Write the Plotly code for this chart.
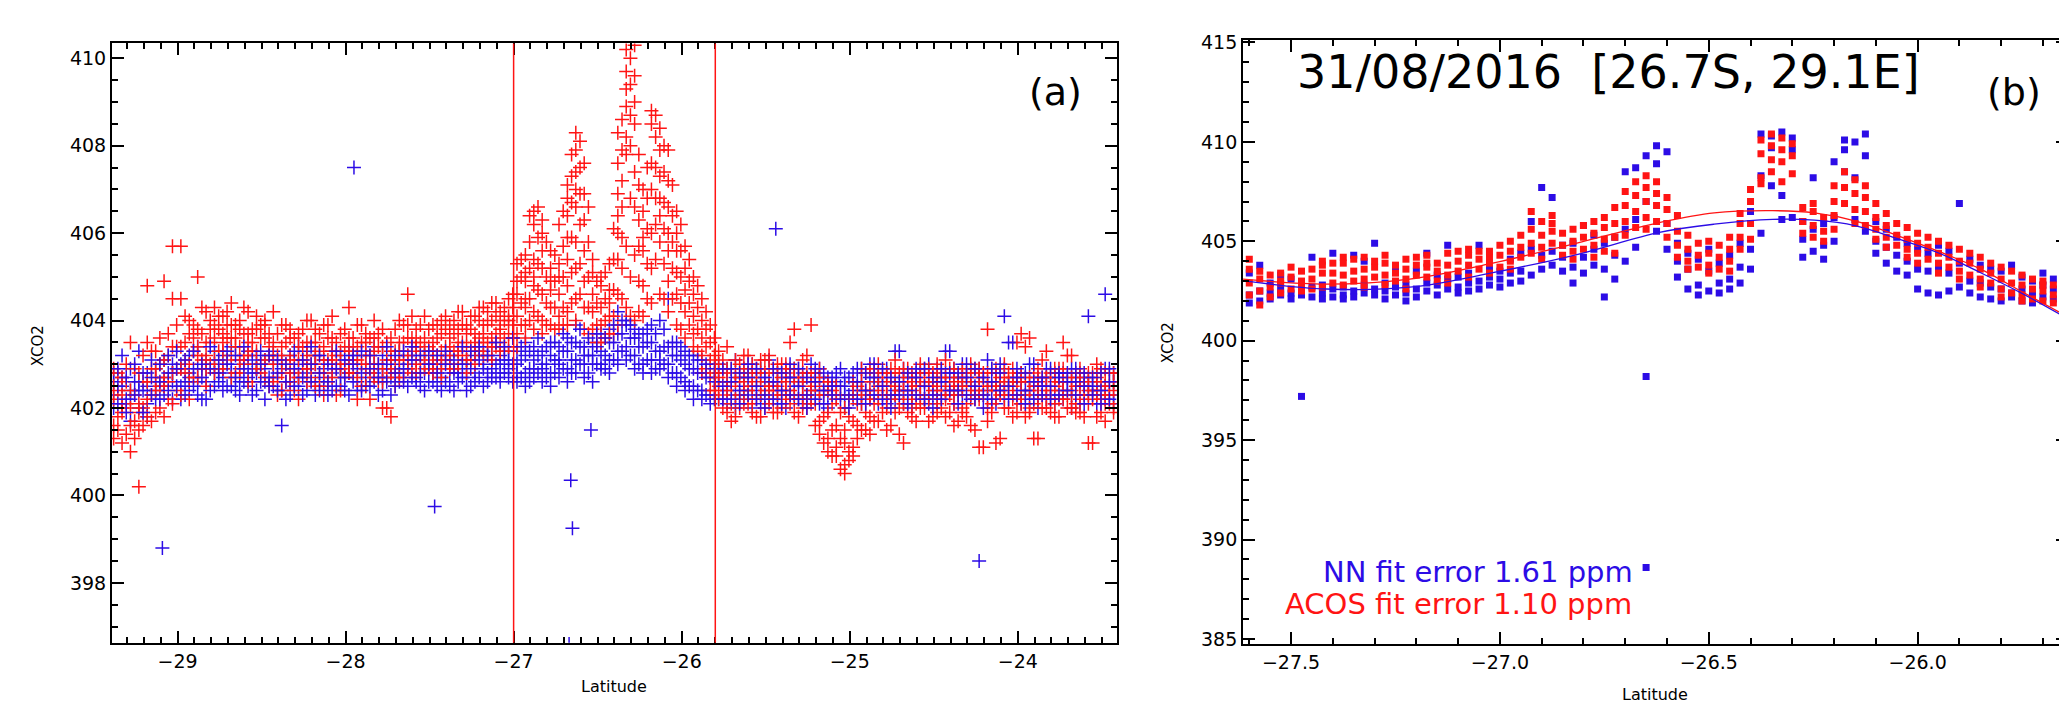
import plotly.graph_objects as go

# ---------------- panel (a): latitude transect, NN (blue) vs ACOS (red) ----------------
a_lat = [
    -29.38, -29.33, -29.28, -29.23, -29.18, -29.13, -29.08, -29.03,
    -28.98, -28.93, -28.88, -28.83, -28.78, -28.73, -28.68, -28.63, -28.58, -28.53, -28.48,
    -28.43, -28.38, -28.33, -28.28, -28.23, -28.18, -28.13, -28.08, -28.03, -27.98,
    -27.93, -27.88, -27.83, -27.78, -27.73, -27.68, -27.63, -27.58, -27.53,
    -27.48, -27.43, -27.38, -27.33, -27.28, -27.23, -27.18, -27.13, -27.08, -27.03,
    -26.98, -26.93, -26.88, -26.83, -26.78, -26.73, -26.68, -26.63, -26.58, -26.53, -26.48, -26.43,
    -26.38, -26.33, -26.28, -26.23, -26.18, -26.13, -26.08, -26.03, -25.98, -25.93, -25.88, -25.83,
    -25.78, -25.73, -25.68, -25.63, -25.58, -25.53, -25.48, -25.43, -25.38, -25.33, -25.28, -25.23,
    -25.18, -25.13, -25.08, -25.03, -24.98, -24.93, -24.88, -24.83, -24.78, -24.73, -24.68, -24.63,
    -24.58, -24.53, -24.48, -24.43, -24.38, -24.33, -24.28, -24.23, -24.18, -24.13, -24.08, -24.03,
    -23.98, -23.93, -23.88, -23.83, -23.78, -23.73, -23.68, -23.63, -23.58, -23.53, -23.48, -23.43,
]

a_nn = [
    [402.8, 402.3, 402.0, 402.6], [403.2, 402.5, 402.1, 402.7], [402.4, 402.9, 401.7, 402.2], [403.3, 402.6, 402.0, 402.4],
    [402.5, 402.8, 402.1, 401.8], [402.9, 402.4, 402.6, 402.2], [403.1, 402.7, 402.3, 402.5], [403.0, 402.6, 402.2, 402.8],
    [403.0, 402.5, 402.9, 402.2], [402.7, 403.2, 402.4, 402.8], [402.9, 402.3, 403.4, 402.6], [403.1, 402.6, 402.9, 402.2],
    [402.8, 403.3, 402.5, 403.0], [402.9, 402.4, 403.2, 402.7], [403.4, 402.8, 402.5, 403.0], [402.6, 403.1, 402.9, 402.3],
    [403.0, 402.7, 403.3, 402.5], [402.8, 403.2, 402.4, 402.9], [403.1, 402.6, 402.9, 402.2],
    [402.7, 403.3, 402.5, 403.0], [402.9, 402.4, 403.1, 401.6], [403.2, 402.6, 402.8, 402.3], [402.5, 403.0, 402.7, 403.4],
    [402.8, 403.3, 402.4, 402.9], [403.0, 402.6, 403.2, 402.3], [402.7, 403.1, 402.9, 402.5], [403.3, 402.8, 402.4, 403.0],
    [402.9, 402.5, 403.2, 402.7], [403.1, 402.8, 402.3, 403.4], [402.6, 403.2, 402.9, 402.4], [403.0, 402.7, 403.3, 402.5],
    [402.8, 403.4, 402.6, 403.0], [403.2, 402.9, 402.4, 402.7], [402.7, 403.1, 402.9, 402.3], [403.0, 402.6, 403.3, 402.8],
    [402.9, 403.2, 402.5, 403.0], [403.1, 402.7, 403.4, 402.6], [402.8, 403.0, 402.4, 403.3],
    [403.0, 402.6, 403.3, 402.8], [402.7, 403.1, 402.9, 402.4], [403.2, 402.8, 402.5, 403.0], [402.9, 403.3, 402.6, 402.8],
    [403.1, 402.7, 403.0, 402.4], [402.8, 403.2, 402.6, 403.4], [403.0, 402.5, 403.3, 402.9], [402.7, 403.1, 402.9, 403.4],
    [403.2, 402.8, 403.0, 402.6], [402.9, 403.3, 402.7, 403.1],
    [403.0, 402.6, 403.3, 402.8], [402.8, 403.2, 402.5, 403.5], [403.1, 402.7, 403.4, 402.9], [402.9, 403.3, 402.6, 403.0],
    [403.2, 402.8, 403.5, 402.5], [403.0, 403.4, 402.7, 403.1], [403.3, 402.9, 403.6, 402.6], [403.1, 403.5, 402.8, 403.9],
    [403.4, 403.0, 402.7, 403.2], [403.0, 403.5, 402.6, 403.2], [403.3, 402.9, 403.7, 403.0], [403.5, 403.1, 403.8, 402.8],
    [403.7, 403.3, 404.2, 403.0], [403.9, 403.4, 404.0, 403.1], [403.6, 403.2, 403.8, 402.9], [403.4, 403.0, 403.7, 402.8],
    [403.5, 403.1, 403.9, 402.8], [403.3, 402.9, 404.0, 403.1], [403.4, 403.0, 404.5, 402.7], [403.2, 402.8, 403.5, 402.5],
    [403.0, 402.6, 403.3, 402.4], [402.9, 402.5, 403.2, 402.2], [402.8, 402.4, 403.1, 402.2], [402.7, 402.3, 403.0, 402.1],
    [402.6, 403.0, 402.2, 402.8], [402.4, 402.9, 402.1, 402.6], [402.7, 402.3, 403.1, 402.0], [402.5, 402.9, 402.2, 402.7],
    [402.8, 402.4, 402.0, 403.0], [402.3, 402.7, 402.9, 402.1], [402.6, 402.2, 403.1, 402.5], [402.4, 402.8, 402.1, 402.6],
    [402.7, 402.3, 402.9, 402.0], [402.5, 402.9, 402.2, 402.7], [402.3, 402.8, 402.6, 402.1], [402.6, 402.2, 403.0, 402.4],
    [402.4, 402.9, 402.1, 402.7], [402.7, 402.3, 402.5, 402.0], [402.5, 402.8, 402.2, 402.6], [402.3, 402.7, 402.0, 402.5],
    [402.6, 402.2, 402.8, 402.4], [402.4, 402.9, 402.1, 402.6], [402.7, 402.3, 403.0, 402.2], [402.5, 402.8, 402.1, 402.6],
    [402.3, 402.7, 402.9, 402.1], [402.6, 402.2, 403.3, 402.4], [402.4, 402.9, 402.1, 402.7], [402.7, 402.3, 402.5, 402.0],
    [402.5, 402.9, 402.2, 402.8], [402.3, 402.6, 403.0, 402.1], [402.6, 402.2, 402.9, 402.4], [402.8, 403.3, 402.3, 402.6],
    [402.4, 402.9, 402.1, 402.7], [402.7, 402.3, 403.0, 402.5], [402.5, 402.9, 402.2, 402.6], [402.3, 402.7, 402.9, 398.5],
    [402.6, 402.2, 403.1, 402.4], [402.8, 402.4, 402.6, 402.1], [402.5, 404.1, 402.9, 402.2], [402.7, 403.5, 402.3, 402.6],
    [402.4, 402.8, 402.1, 402.6], [402.6, 402.2, 403.0, 402.4], [402.3, 402.7, 402.5, 402.0], [402.5, 402.9, 402.2, 402.7],
    [402.7, 402.3, 402.8, 402.1], [402.4, 402.8, 402.6, 402.2], [402.6, 402.3, 402.9, 402.0], [402.5, 402.8, 402.1, 402.7],
    [402.7, 404.1, 402.3, 402.5], [402.4, 402.8, 402.1, 402.6], [404.6, 402.5, 402.9, 402.2], [402.6, 402.3, 402.8, 402.1],
]

a_acos = [
    [402.9, 402.2, 401.6, 401.3, 402.5], [402.7, 401.9, 401.2, 402.3, 402.0], [403.5, 402.4, 401.0, 401.6, 402.0],
    [402.8, 402.1, 401.5, 400.2, 401.9], [403.5, 402.6, 404.8, 402.2, 401.8], [402.9, 403.3, 402.4, 401.9, 402.7],
    [403.1, 402.7, 401.8, 402.5, 404.9], [405.7, 403.4, 402.8, 402.1, 404.5],
    [403.4, 402.9, 402.3, 405.7, 404.5], [403.7, 403.0, 402.6, 404.0, 402.2], [403.2, 403.8, 402.7, 405.0, 403.4],
    [404.2, 403.5, 402.9, 403.2, 402.5], [403.9, 403.6, 403.1, 404.3, 402.8], [404.1, 403.7, 403.3, 402.9, 403.5],
    [403.6, 404.4, 403.2, 402.7, 403.9], [403.8, 403.4, 402.8, 404.0, 403.1], [403.5, 403.2, 404.2, 402.6, 403.7],
    [403.3, 403.8, 402.9, 404.1, 403.0], [403.6, 403.1, 402.7, 403.9, 404.0],
    [403.0, 403.5, 402.6, 404.2, 403.2], [403.4, 402.8, 403.9, 403.1, 402.4], [402.9, 403.6, 403.2, 402.6, 403.8],
    [403.7, 403.1, 402.7, 403.4, 402.2], [403.2, 402.9, 404.0, 403.5, 402.6], [403.5, 403.0, 402.5, 403.8, 403.2],
    [402.8, 403.4, 403.9, 403.1, 402.3], [403.6, 403.1, 402.7, 404.1, 403.3], [403.3, 402.9, 403.7, 402.4, 403.0],
    [403.0, 403.6, 402.8, 404.3, 403.3], [403.4, 402.7, 403.9, 403.1, 402.2], [403.2, 403.7, 402.9, 402.5, 403.5],
    [403.6, 403.0, 404.0, 402.7, 403.3], [402.9, 403.4, 402.6, 403.8, 402.0], [403.3, 402.8, 403.6, 401.8, 403.1],
    [403.5, 403.1, 402.7, 404.0, 403.3], [403.2, 403.6, 402.9, 403.9, 404.6], [403.4, 403.0, 403.8, 402.8, 403.5],
    [403.6, 403.3, 402.9, 404.1, 403.2],
    [403.5, 403.1, 403.9, 402.8, 403.3], [403.3, 403.7, 403.0, 404.0, 402.7], [403.6, 403.2, 403.9, 403.4, 402.9],
    [403.8, 403.3, 403.0, 404.2, 403.5], [403.4, 403.9, 403.1, 402.8, 403.7], [403.7, 403.3, 404.1, 403.0, 403.5],
    [403.9, 403.5, 403.2, 404.3, 403.7], [403.6, 404.0, 403.4, 403.1, 404.4], [403.8, 404.2, 403.5, 403.9, 403.3],
    [404.1, 403.7, 404.5, 403.4, 404.0],
    [405.3, 404.6, 404.1, 403.7, 404.9, 403.4], [405.5, 404.9, 404.3, 403.9, 405.1, 403.6, 404.5],
    [406.5, 406.2, 405.4, 404.8, 404.2, 405.0, 403.8], [406.3, 406.0, 405.6, 405.2, 404.6, 404.0, 403.7],
    [405.2, 404.7, 405.6, 404.3, 403.9, 404.9], [406.2, 405.3, 404.6, 404.1, 403.8, 405.0],
    [407.1, 406.8, 406.4, 405.4, 404.8, 404.2, 403.9, 405.9], [408.3, 407.9, 407.4, 407.0, 406.6, 405.8, 405.2, 404.5, 404.0],
    [407.6, 406.9, 406.3, 405.6, 404.9, 404.3, 403.8], [405.1, 404.6, 404.2, 403.8, 405.4],
    [404.8, 404.3, 403.9, 403.5, 405.0], [405.3, 404.7, 404.1, 403.7, 404.4],
    [408.3, 407.6, 406.9, 406.4, 406.0, 405.4, 404.6, 403.9], [410.2, 409.7, 409.3, 408.9, 408.2, 407.8, 405.7, 404.3],
    [410.3, 409.6, 409.0, 408.5, 407.4, 406.6, 405.5, 404.0], [407.0, 406.5, 405.9, 405.6, 404.8, 404.1],
    [408.8, 408.5, 407.6, 407.0, 406.0, 405.2, 404.4], [408.4, 407.9, 407.3, 406.8, 406.4, 405.8, 404.6],
    [407.9, 407.2, 406.6, 406.0, 405.6, 404.9, 404.2], [406.5, 406.0, 405.6, 405.1, 404.6, 403.9],
    [405.7, 405.2, 404.7, 404.2, 403.6], [405.0, 404.6, 404.1, 403.7, 403.4],
    [404.5, 404.0, 403.6, 403.2, 402.8], [403.9, 403.5, 403.1, 402.7, 402.4],
    [403.3, 402.7, 402.2, 403.0, 402.5], [402.9, 402.4, 403.4, 401.9, 402.6], [402.6, 403.1, 402.2, 402.8, 401.8],
    [402.4, 402.9, 403.2, 402.1, 402.6], [402.7, 402.2, 403.0, 401.9, 402.5], [402.5, 403.1, 402.3, 401.8, 402.8],
    [402.9, 402.4, 402.1, 403.2, 402.6], [402.3, 402.8, 402.5, 401.9, 403.0], [402.6, 403.0, 402.2, 402.8, 402.4],
    [403.8, 402.7, 402.3, 402.9, 401.9], [402.5, 403.1, 402.2, 402.7, 402.0], [403.9, 402.8, 402.4, 402.1, 402.6],
    [402.7, 402.3, 401.7, 402.9, 401.4], [402.4, 401.9, 401.3, 402.6, 401.0], [402.2, 401.6, 401.1, 400.9, 402.5],
    [402.0, 401.2, 400.7, 400.5, 401.5], [402.3, 401.7, 401.1, 400.9, 402.6], [402.6, 402.1, 401.5, 402.9, 402.3],
    [402.4, 402.9, 401.8, 402.2, 401.4], [402.7, 402.2, 403.0, 401.7, 402.4], [402.5, 402.0, 402.8, 401.5, 402.3],
    [402.8, 402.3, 401.9, 403.1, 402.5], [402.4, 402.9, 401.2, 402.1, 402.6], [402.6, 402.1, 402.8, 401.8, 402.4],
    [402.3, 402.7, 402.0, 403.0, 402.5], [402.8, 402.2, 401.7, 402.5, 402.9], [402.5, 403.0, 402.1, 401.9, 402.7],
    [402.2, 402.7, 403.1, 402.4, 401.8], [402.6, 402.1, 402.9, 401.6, 402.4], [402.9, 402.4, 402.0, 402.7, 401.9],
    [402.3, 402.8, 401.6, 402.5, 403.0], [402.7, 402.2, 401.1, 402.9, 402.4], [403.8, 402.5, 402.0, 402.8, 401.7],
    [402.4, 402.9, 401.2, 402.2, 402.6], [402.7, 402.3, 402.0, 403.0, 402.5], [402.5, 402.9, 401.8, 402.2, 402.7],
    [403.7, 402.6, 402.1, 402.8, 402.3], [403.6, 402.4, 402.0, 402.7, 401.9], [402.6, 401.3, 402.9, 402.2, 402.5],
    [403.3, 402.4, 402.0, 402.7, 402.2], [402.5, 402.9, 402.1, 401.8, 402.6], [403.5, 402.6, 402.2, 402.9, 402.4],
    [403.2, 402.4, 402.0, 402.7, 402.3], [402.6, 402.2, 402.9, 401.9, 402.5], [402.4, 402.8, 401.2, 402.1, 402.6],
    [402.7, 402.3, 403.0, 401.8, 402.4], [402.5, 402.1, 402.8, 401.7, 402.3], [402.4, 402.8, 402.0, 402.6, 401.9],
]

# soundings lying between the columns above
a_lat2 = [
    -29.355, -29.305, -29.255, -29.205, -29.155, -29.105, -29.055, -29.005,
    -28.955, -28.905, -28.855, -28.805, -28.755, -28.705, -28.655, -28.605, -28.555, -28.505, -28.455,
    -28.405, -28.355, -28.305, -28.255, -28.205, -28.155, -28.105, -28.055, -28.005, -27.955,
    -27.905, -27.855, -27.805, -27.755, -27.705, -27.655, -27.605, -27.555, -27.505,
    -27.455, -27.405, -27.355, -27.305, -27.255, -27.205, -27.155, -27.105, -27.055, -27.005,
    -26.955, -26.905, -26.855, -26.805, -26.755, -26.705, -26.655, -26.605, -26.555, -26.505, -26.455, -26.405,
    -26.355, -26.305, -26.255, -26.205, -26.155, -26.105, -26.055, -26.005, -25.955, -25.905, -25.855, -25.805,
    -25.755, -25.705, -25.655, -25.605, -25.555, -25.505, -25.455, -25.405, -25.355, -25.305, -25.255, -25.205,
    -25.155, -25.105, -25.055, -25.005, -24.955, -24.905, -24.855, -24.805, -24.755, -24.705, -24.655, -24.605,
    -24.555, -24.505, -24.455, -24.405, -24.355, -24.305, -24.255, -24.205, -24.155, -24.105, -24.055, -24.005,
    -23.955, -23.905, -23.855, -23.805, -23.755, -23.705, -23.655, -23.605, -23.555, -23.505, -23.455,
]

a_nn2 = [
    [402.5, 402.9, 402.1], [402.2, 402.7, 401.9], [402.6, 403.0, 402.3], [402.4, 402.8, 401.9],
    [402.7, 403.1, 402.3], [402.6, 402.2, 403.0], [402.8, 402.4, 403.2], [402.5, 402.9, 403.3],
    [402.6, 403.1, 402.3], [402.9, 402.5, 403.3], [402.7, 403.0, 402.2], [402.9, 402.4, 403.4],
    [402.6, 403.1, 402.8], [403.0, 402.5, 403.3], [402.7, 403.2, 402.4], [402.9, 402.6, 403.4],
    [402.8, 402.3, 403.1], [403.0, 402.6, 403.3], [402.7, 403.2, 402.5],
    [402.8, 403.1, 402.4], [402.6, 403.0, 402.2], [402.9, 403.3, 402.5], [402.7, 402.3, 403.1],
    [403.0, 402.6, 403.4], [402.8, 402.4, 403.2], [402.6, 403.0, 402.3], [402.9, 403.3, 402.5],
    [402.7, 403.1, 402.4], [403.0, 402.6, 403.2], [402.8, 402.4, 403.3], [402.9, 403.2, 402.5],
    [402.7, 403.0, 402.3], [403.0, 402.6, 403.4], [402.8, 403.2, 402.5], [402.9, 402.6, 403.3],
    [403.1, 402.7, 403.4], [402.8, 403.2, 402.5], [403.0, 402.6, 403.3],
    [402.8, 403.2, 402.5], [403.0, 402.6, 403.3], [402.8, 403.1, 402.4], [403.0, 402.7, 403.4],
    [402.9, 403.3, 402.5], [403.1, 402.7, 403.4], [402.8, 403.2, 402.6], [403.0, 402.7, 403.5],
    [403.1, 402.8, 403.4], [403.0, 402.6, 403.6],
    [403.1, 402.7, 403.4], [402.9, 403.3, 402.6], [403.2, 402.8, 403.6], [403.0, 403.4, 402.7],
    [403.1, 402.8, 403.5], [403.3, 402.9, 403.7], [403.1, 403.5, 402.8], [403.4, 403.0, 403.8],
    [403.2, 402.8, 403.6], [403.4, 403.0, 403.7], [403.2, 403.6, 402.9], [403.5, 403.1, 403.9],
    [403.7, 403.3, 404.0], [403.6, 403.2, 403.9], [403.4, 403.0, 403.7], [403.5, 403.1, 403.8],
    [403.3, 402.9, 403.7], [403.4, 403.0, 403.8], [403.2, 402.8, 403.5], [403.1, 402.7, 403.4],
    [402.9, 402.5, 403.2], [402.8, 402.4, 403.1], [402.7, 402.3, 403.0], [402.6, 402.2, 402.9],
    [402.5, 402.9, 402.2], [402.6, 402.2, 402.9], [402.4, 402.8, 402.1], [402.7, 402.3, 403.0],
    [402.5, 402.9, 402.2], [402.3, 402.7, 402.0], [402.6, 402.2, 402.9], [402.4, 402.8, 402.1],
    [402.7, 402.3, 403.0], [402.5, 402.9, 402.2], [402.3, 402.7, 402.0], [402.6, 402.2, 402.9],
    [402.4, 402.8, 402.1], [402.7, 402.3, 402.5], [402.5, 402.9, 402.2], [402.3, 402.7, 402.0],
    [402.6, 402.2, 402.9], [402.4, 402.8, 402.1], [402.7, 402.3, 403.0], [402.5, 402.9, 402.2],
    [402.3, 402.7, 402.0], [402.6, 403.3, 402.3], [402.4, 402.8, 402.1], [402.7, 402.3, 402.9],
    [402.5, 402.9, 402.2], [402.3, 402.7, 402.0], [402.6, 402.2, 402.9], [402.8, 403.3, 402.4],
    [402.4, 402.8, 402.1], [402.7, 402.3, 403.0], [402.5, 402.9, 402.2], [402.3, 402.7, 402.0],
    [402.6, 402.2, 402.9], [402.8, 402.4, 403.0], [402.5, 403.5, 402.2], [402.7, 402.3, 402.9],
    [402.4, 402.8, 402.1], [402.6, 402.2, 403.0], [402.3, 402.7, 402.5], [402.5, 402.9, 402.2],
    [402.7, 402.3, 402.8], [402.4, 402.8, 402.6], [402.6, 402.3, 402.9], [402.5, 402.8, 402.1],
    [402.7, 402.3, 402.5], [402.4, 402.8, 402.1], [402.6, 402.2, 402.9],
]

a_acos2 = [
    [402.4, 401.8, 402.8, 401.5], [402.1, 401.4, 402.6, 403.0], [402.3, 401.7, 402.9, 401.3], [402.6, 402.0, 401.6, 403.2],
    [402.9, 402.3, 401.7, 403.3], [403.0, 402.5, 402.0, 403.6], [403.2, 402.6, 402.2, 403.7], [403.4, 402.9, 402.4, 403.9],
    [403.5, 402.8, 404.1, 403.1], [403.3, 403.9, 402.7, 403.6], [403.7, 403.1, 404.3, 402.9], [403.5, 404.0, 403.0, 403.8],
    [403.8, 403.3, 404.1, 402.9], [403.6, 404.2, 403.1, 403.9], [403.4, 403.9, 402.8, 403.6], [403.7, 403.2, 404.3, 403.0],
    [403.3, 403.8, 402.6, 403.5], [403.6, 403.0, 403.9, 402.8], [403.2, 403.7, 402.5, 403.4],
    [403.2, 402.7, 403.7, 402.3], [403.5, 403.0, 402.6, 403.9], [403.1, 403.6, 402.8, 402.4], [403.4, 402.9, 403.8, 403.1],
    [403.0, 403.5, 402.7, 404.0], [403.3, 402.8, 403.7, 402.5], [403.6, 403.1, 402.6, 403.9], [403.2, 402.9, 403.5, 402.3],
    [403.4, 403.0, 403.8, 402.7], [403.1, 403.6, 402.8, 403.3], [403.5, 403.0, 402.5, 403.9], [403.2, 402.8, 403.6, 402.2],
    [403.4, 403.0, 403.7, 402.6], [403.1, 402.7, 403.5, 402.0], [403.3, 402.9, 403.8, 402.5], [403.5, 403.1, 403.9, 402.7],
    [403.3, 402.8, 403.6, 404.1], [403.5, 403.1, 403.9, 402.8], [403.4, 403.0, 403.8, 402.9],
    [403.6, 403.2, 403.9, 402.9], [403.4, 403.8, 403.1, 404.1], [403.7, 403.3, 404.0, 402.9], [403.5, 403.9, 403.2, 404.2],
    [403.8, 403.4, 404.1, 403.1], [403.6, 404.0, 403.3, 404.3], [403.9, 403.5, 404.2, 403.2], [403.7, 404.1, 403.4, 404.4],
    [404.0, 403.6, 404.3, 403.3], [404.3, 403.9, 404.6, 403.6],
    [405.0, 404.4, 403.9, 405.4], [406.4, 405.8, 405.2, 404.5, 404.0], [406.6, 405.9, 405.3, 404.7, 404.1],
    [405.8, 405.0, 404.4, 403.9], [405.5, 404.9, 404.3, 403.8], [406.5, 405.7, 405.0, 404.3, 403.9],
    [407.8, 407.3, 406.7, 405.9, 405.1, 404.4], [408.1, 407.5, 406.9, 406.2, 405.3, 404.6],
    [406.6, 405.8, 405.0, 404.3, 403.7], [404.9, 404.4, 403.9, 403.5], [405.1, 404.5, 404.0, 403.6],
    [406.1, 405.4, 404.7, 404.1, 403.7],
    [408.6, 407.9, 407.2, 406.6, 405.9, 405.2, 404.5], [410.0, 409.4, 408.7, 408.0, 406.8, 405.0, 404.1],
    [407.8, 407.1, 406.3, 405.7, 404.9, 404.2], [407.5, 406.8, 406.1, 405.3, 404.5],
    [408.7, 408.2, 407.5, 406.8, 406.2, 405.4], [408.0, 407.4, 406.7, 406.1, 405.3, 404.5],
    [407.1, 406.4, 405.8, 405.2, 404.5], [406.2, 405.6, 405.0, 404.4, 403.8],
    [405.4, 404.9, 404.4, 403.9], [404.8, 404.3, 403.8, 403.3], [404.2, 403.8, 403.4, 402.9], [403.6, 403.2, 402.8, 402.4],
    [402.8, 402.3, 403.1, 402.0], [402.5, 402.9, 402.1, 401.7], [402.7, 402.3, 403.0, 402.0], [402.4, 402.8, 402.1, 403.2],
    [402.6, 402.2, 402.9, 401.8], [402.8, 402.4, 402.0, 403.1], [402.5, 402.9, 402.2, 401.9], [402.7, 402.3, 403.0, 402.0],
    [402.4, 402.9, 402.1, 403.5], [402.6, 402.2, 402.9, 401.8], [402.8, 402.3, 402.0, 403.2], [402.5, 402.1, 402.8, 401.6],
    [402.3, 401.8, 402.6, 401.2], [402.1, 401.5, 400.9, 402.4], [401.9, 401.3, 400.6, 402.3], [401.8, 401.0, 400.8, 402.2],
    [402.1, 401.6, 401.3, 402.5], [402.4, 401.9, 402.8, 401.5], [402.6, 402.1, 402.9, 401.7], [402.3, 402.8, 401.9, 402.5],
    [402.6, 402.2, 401.6, 402.9], [402.4, 402.8, 402.0, 401.4], [402.7, 402.2, 401.9, 402.9], [402.5, 402.1, 402.8, 401.7],
    [402.6, 402.2, 402.9, 402.0], [402.4, 402.8, 401.8, 402.6], [402.7, 402.3, 402.0, 402.9], [402.5, 402.9, 401.9, 402.3],
    [402.3, 402.7, 401.7, 402.5], [402.6, 402.1, 402.8, 401.8], [402.4, 402.9, 401.5, 402.2], [402.8, 402.3, 401.1, 402.6],
    [402.5, 402.1, 402.9, 401.9], [402.7, 402.3, 401.3, 402.5], [402.4, 402.8, 402.0, 402.6], [402.6, 403.5, 402.2, 401.9],
    [402.3, 402.7, 401.8, 403.4], [402.5, 402.1, 401.3, 402.8], [402.7, 402.3, 403.1, 402.0], [402.4, 402.8, 401.9, 402.2],
    [402.6, 402.2, 402.9, 401.8], [402.3, 402.7, 403.2, 402.0], [402.5, 402.1, 402.8, 401.9], [402.7, 402.3, 401.8, 402.5],
    [402.4, 402.8, 401.2, 402.2], [402.6, 402.2, 402.9, 401.9], [402.5, 402.1, 402.8, 402.3],
]

# isolated NN soundings far from the band
a_nn_out_lat = [-27.95, -25.44, -29.09, -27.47, -26.66, -26.65, -26.54, -26.67]
a_nn_out = [407.5, 406.1, 398.8, 399.75, 400.35, 399.25, 401.5, 396.6]

plume_bounds = [-27.0, -25.8]

# ---------------- panel (b): 31/08/2016 overpass ----------------
b_lat = [
    -27.600, -27.575, -27.550, -27.525, -27.500, -27.475, -27.450, -27.425, -27.400, -27.375,
    -27.350, -27.325, -27.300, -27.275, -27.250, -27.225, -27.200, -27.175, -27.150, -27.125,
    -27.100, -27.075, -27.050, -27.025, -27.000, -26.975, -26.950, -26.925, -26.900, -26.875,
    -26.850, -26.825, -26.800, -26.775, -26.750, -26.725, -26.700, -26.675, -26.650, -26.625,
    -26.600, -26.575, -26.550, -26.525, -26.500, -26.475, -26.450, -26.425, -26.400, -26.375,
    -26.350, -26.325, -26.300, -26.275, -26.250, -26.225, -26.200, -26.175, -26.150, -26.125,
    -26.100, -26.075, -26.050, -26.025, -26.000, -25.975, -25.950, -25.925, -25.900, -25.875,
    -25.850, -25.825, -25.800, -25.775, -25.750, -25.725, -25.700, -25.675, -25.650,
]

b_acos = [
    [403.6, 402.9, 402.3, 404.1], [403.1, 402.5, 401.8, 403.5], [403.3, 402.7, 402.2], [402.9, 403.4, 402.4, 403.0],
    [403.2, 402.6, 403.7], [403.0, 402.5, 403.5, 402.8], [403.6, 403.1, 402.6], [404.0, 403.4, 402.7, 403.8],
    [403.4, 402.9, 403.9], [403.9, 403.3, 402.8, 404.2], [403.5, 403.0, 404.1], [404.2, 403.6, 403.1, 402.7],
    [403.7, 403.2, 404.0], [403.9, 403.3, 402.8, 404.3], [403.4, 403.0, 403.8], [404.1, 403.6, 403.1, 402.6],
    [403.8, 403.3, 404.2], [404.3, 403.7, 403.2, 403.9], [403.5, 403.9, 403.0], [404.4, 403.8, 403.3, 402.9],
    [404.0, 403.5, 404.5], [404.3, 403.8, 403.2, 404.6], [404.1, 403.6, 404.5], [404.5, 403.9, 403.4, 404.2],
    [404.8, 404.3, 403.7], [405.0, 404.5, 404.0, 403.6], [404.7, 405.3, 404.2], [406.5, 405.6, 404.9, 404.4],
    [406.0, 405.3, 404.7, 404.1], [406.3, 405.5, 404.9, 405.9], [405.4, 404.8, 404.3], [405.6, 405.0, 404.5, 404.1],
    [405.2, 404.6, 405.8], [406.0, 405.4, 404.8, 404.2], [405.7, 405.1, 404.5, 406.2], [406.7, 405.9, 405.2, 404.4],
    [407.5, 406.8, 406.0, 405.3], [408.0, 407.3, 406.5, 405.7], [408.3, 407.7, 407.0, 406.2, 405.6], [408.0, 407.4, 406.8, 406.0],
    [407.2, 406.6, 405.9, 405.2], [406.3, 405.5, 404.8, 404.2], [405.3, 404.6, 404.0, 403.6], [404.9, 404.3, 403.7],
    [405.0, 404.4, 403.8, 403.4], [404.8, 404.2, 403.6], [405.2, 404.6, 404.0, 403.5], [405.9, 405.2, 404.6, 406.4],
    [407.6, 407.0, 405.9, 405.1], [410.1, 409.4, 408.2, 407.9], [410.4, 409.8, 409.1, 408.5], [410.2, 409.6, 409.0, 408.0],
    [409.9, 409.3, 408.4], [406.7, 406.0, 405.4], [406.5, 405.8, 405.2, 406.9], [406.2, 405.5, 405.0],
    [407.8, 407.0, 406.3, 405.6], [408.5, 407.7, 406.9], [408.1, 407.4, 406.6, 405.9], [407.2, 406.5, 405.8, 407.8],
    [406.9, 406.2, 405.6, 405.1], [406.4, 405.8, 405.2, 404.7], [405.9, 405.3, 404.8], [405.7, 405.1, 404.6, 404.2],
    [405.4, 404.9, 404.4, 403.9], [405.2, 404.7, 404.1], [405.0, 404.4, 403.9, 403.4], [404.8, 404.2, 403.7],
    [404.6, 404.0, 403.5, 403.1], [404.4, 403.9, 403.3], [404.2, 403.6, 403.1, 402.7], [403.9, 403.4, 402.9],
    [403.7, 403.1, 402.6, 402.2], [403.5, 402.9, 402.4], [403.3, 402.8, 402.3, 402.0], [403.1, 402.6, 402.1],
    [403.0, 402.5, 402.0, 402.8], [402.8, 402.3, 401.9], [402.7, 402.2, 402.9, 402.4],
]

b_nn = [
    [402.3, 403.4, 401.9], [402.5, 402.0, 403.8], [402.4, 402.9, 402.1], [402.3, 402.6, 403.3],
    [402.4, 402.1, 403.1], [402.3, 402.6, 397.2], [402.2, 402.7, 404.2], [402.4, 402.1, 402.8],
    [402.6, 402.2, 404.4], [402.3, 402.7, 402.1], [402.5, 402.2, 404.3], [402.4, 402.8, 404.0],
    [402.3, 402.6, 404.9], [402.5, 402.1, 402.9], [402.3, 402.7, 403.6], [402.4, 402.0, 402.8],
    [402.6, 402.2, 403.5], [402.5, 402.9, 404.4], [402.3, 402.8, 403.3], [402.6, 403.1, 404.8],
    [402.7, 403.2, 402.4], [402.9, 403.4, 402.5], [403.0, 402.6, 404.8], [403.2, 402.8, 403.6],
    [403.1, 402.7, 403.5], [403.4, 402.9, 404.1], [403.5, 403.0, 404.4], [406.0, 403.3, 404.6],
    [407.7, 403.6, 404.3], [407.2, 403.8, 404.5], [404.8, 403.5, 404.2], [404.9, 403.7, 402.9],
    [405.8, 404.2, 403.4], [405.3, 404.6, 403.8], [404.9, 403.6, 402.2], [405.2, 404.3, 403.1],
    [408.5, 405.6, 404.0], [408.7, 406.1, 404.7], [409.3, 407.0, 398.2, 388.6], [409.8, 408.9, 405.5],
    [409.5, 405.9, 404.6], [404.9, 404.0, 403.2], [404.4, 403.6, 402.6], [404.1, 402.8, 402.3],
    [403.5, 402.5, 404.6], [403.9, 402.9, 402.4], [404.3, 403.1, 402.6], [404.9, 403.7, 402.9],
    [406.5, 404.6, 403.6], [410.4, 408.3, 405.4], [410.3, 409.7, 407.8], [410.5, 407.3, 406.1],
    [410.2, 409.6, 406.2], [406.0, 405.1, 404.2], [408.2, 405.6, 404.5], [405.9, 404.8, 404.1],
    [409.0, 406.2, 405.0], [410.1, 409.6, 408.5], [410.0, 408.2, 406.1], [410.4, 409.3, 405.5],
    [406.0, 405.0, 404.4], [405.6, 404.7, 403.9], [405.2, 404.3, 403.5], [404.9, 404.0, 403.3],
    [404.6, 403.6, 402.6], [404.4, 403.5, 402.4], [404.8, 403.7, 402.3], [404.5, 403.4, 402.5],
    [406.9, 403.9, 402.7], [404.1, 403.0, 402.4], [403.8, 402.9, 402.2], [403.6, 402.7, 402.1],
    [403.5, 402.6, 402.0], [403.8, 402.4, 402.2], [403.2, 402.6, 402.0], [403.0, 402.3, 401.9],
    [402.8, 402.2, 403.4], [402.6, 402.1, 403.1], [402.5, 402.0, 402.8],
]

# polynomial fits
fit_lat = [-27.615, -27.416, -27.216, -27.017, -26.818, -26.618, -26.487, -26.347,
           -26.247, -26.148, -26.048, -25.948, -25.849, -25.749, -25.64]
nn_fit = [403.02, 402.60, 402.69, 403.42, 404.32, 405.45, 405.86, 406.10,
          406.06, 405.78, 405.13, 404.40, 403.42, 402.37, 401.1]
acos_fit = [403.10, 402.85, 403.10, 403.90, 404.90, 405.94, 406.43, 406.54,
            406.43, 406.02, 405.29, 404.48, 403.60, 402.45, 401.2]

RED = '#ff1414'
BLUE = '#2c0ce6'
FONT = 'DejaVu Sans'


def flatten(lats, groups):
    xs, ys = [], []
    for lat, vals in zip(lats, groups):
        for v in vals:
            xs.append(lat)
            ys.append(v)
    return xs, ys


assert len(a_lat) == len(a_nn) == len(a_acos)
assert len(a_lat2) == len(a_nn2) == len(a_acos2)
assert len(b_lat) == len(b_nn) == len(b_acos)

ax_nn, ay_nn = flatten(a_lat, a_nn)
ax_nn2, ay_nn2 = flatten(a_lat2, a_nn2)
ax_nn2 += a_nn_out_lat
ay_nn2 += a_nn_out
ax_ac, ay_ac = flatten(a_lat + a_lat2, a_acos + a_acos2)
bx_nn, by_nn = flatten(b_lat, b_nn)
bx_ac, by_ac = flatten(b_lat, b_acos)

fig = go.Figure()

# soundings were plotted interleaved, so part of the NN set sits under and part over ACOS
cross = dict(symbol='cross-thin', size=10)
fig.add_trace(go.Scatter(x=ax_nn, y=ay_nn, mode='markers', xaxis='x', yaxis='y',
                         marker=dict(**cross, line=dict(width=1.5, color=BLUE))))
fig.add_trace(go.Scatter(x=ax_ac, y=ay_ac, mode='markers', xaxis='x', yaxis='y',
                         marker=dict(**cross, line=dict(width=1.5, color=RED))))
fig.add_trace(go.Scatter(x=ax_nn2, y=ay_nn2, mode='markers', xaxis='x', yaxis='y',
                         marker=dict(**cross, line=dict(width=1.5, color=BLUE))))

fig.add_trace(go.Scatter(x=bx_nn, y=by_nn, mode='markers', xaxis='x2', yaxis='y2',
                         marker=dict(symbol='square', size=7, color=BLUE, line=dict(width=0))))
fig.add_trace(go.Scatter(x=bx_ac, y=by_ac, mode='markers', xaxis='x2', yaxis='y2',
                         marker=dict(symbol='square', size=7, color=RED, line=dict(width=0))))
fig.add_trace(go.Scatter(x=fit_lat, y=nn_fit, mode='lines', xaxis='x2', yaxis='y2',
                         line=dict(color=BLUE, width=1.3, shape='spline')))
fig.add_trace(go.Scatter(x=fit_lat, y=acos_fit, mode='lines', xaxis='x2', yaxis='y2',
                         line=dict(color=RED, width=1.3, shape='spline')))

for lat in plume_bounds:
    fig.add_shape(type='line', xref='x', yref='y domain', x0=lat, x1=lat, y0=0, y1=1,
                  line=dict(color=RED, width=1.5), layer='above')

axis_style = dict(showline=True, linecolor='black', linewidth=2, mirror='allticks',
                  ticks='inside', ticklen=12, tickwidth=2, tickcolor='black',
                  showgrid=False, zeroline=False,
                  tickfont=dict(family=FONT, size=19, color='black'))
minor_style = dict(ticks='inside', ticklen=6, tickwidth=1.5, tickcolor='black', showgrid=False)

fig.update_layout(
    width=2067, height=724, margin=dict(l=0, r=0, t=0, b=0),
    paper_bgcolor='white', plot_bgcolor='white', showlegend=False,
    xaxis=dict(domain=[0.0503, 0.5365], range=[-29.39, -23.41], dtick=1, tick0=0, anchor='y',
               minor=dict(dtick=0.1, **minor_style), **axis_style),
    yaxis=dict(domain=[0.1174, 0.9627], range=[396.63, 410.34], dtick=2, tick0=0, anchor='x',
               minor=dict(dtick=0.5, **minor_style), **axis_style),
    xaxis2=dict(domain=[0.5975, 0.9966], range=[-27.615, -25.64], dtick=0.5, tick0=0,
                tickformat='.1f', anchor='y2',
                minor=dict(dtick=0.1, **minor_style), **axis_style),
    yaxis2=dict(domain=[0.116, 0.9669], range=[384.76, 415.1], dtick=5, tick0=0, anchor='x2',
                minor=dict(dtick=1, **minor_style), **axis_style),
)

notes = [
    dict(text='XCO2', x=0.0145, y=0.537, textangle=-90, font=dict(size=15, color='black')),
    dict(text='Latitude', x=0.293, y=0.0552, font=dict(size=16, color='black')),
    dict(text='XCO2', x=0.5612, y=0.54, textangle=-90, font=dict(size=15, color='black')),
    dict(text='Latitude', x=0.7968, y=0.0442, font=dict(size=16, color='black')),
    dict(text='(a)', x=0.507, y=0.8936, font=dict(size=38, color='black')),
    dict(text='(b)', x=0.9705, y=0.8936, font=dict(size=38, color='black')),
    dict(text='31/08/2016\u00a0\u00a0[26.7S,\u00a029.1E]', x=0.7743, y=0.9227,
         font=dict(size=46, color='black')),
    dict(text='NN fit error 1.61 ppm', x=0.6352, y=0.2175, xanchor='left',
         font=dict(size=29, color=BLUE)),
    dict(text='ACOS fit error 1.10 ppm', x=0.6168, y=0.172, xanchor='left',
         font=dict(size=29, color=RED)),
]
for n in notes:
    n.setdefault('xanchor', 'center')
    fig.add_annotation(xref='paper', yref='paper', yanchor='middle', showarrow=False,
                       font_family=FONT, **n)

fig.write_html('out.html')
